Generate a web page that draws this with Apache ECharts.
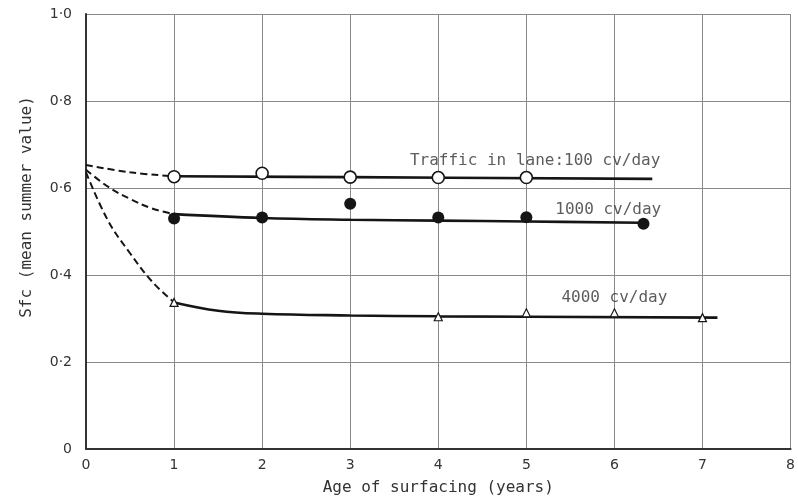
<!DOCTYPE html>
<html><head><meta charset="utf-8">
<script src="https://cdn.jsdelivr.net/npm/echarts@6/dist/echarts.min.js"></script>
<style>html,body{margin:0;padding:0;background:#fff}#c{width:798px;height:501px}</style>
</head><body><div id="c"></div>
<script>
var xTicks = ['0','1','2','3','4','5','6','7','8'];
var yTicks = {0:'0',0.2:'0·2',0.4:'0·4',0.6:'0·6',0.8:'0·8',1:'1·0'};

var lane100Dashed = [[0,0.653],[0.5,0.636],[1,0.627]];
var lane100Line = [[1,0.627],[3,0.625],[6.43,0.621]];
var lane100Points = [[1,0.626],[2,0.634],[3,0.625],[4,0.624],[5,0.624]];

var lane1000Dashed = [[0,0.642],[0.25,0.603],[0.5,0.575],[0.75,0.553],[1,0.540]];
var lane1000Line = [[1,0.540],[2,0.531],[3,0.527],[4,0.525],[5,0.523],[6.3,0.520]];
var lane1000Points = [[1,0.530],[2,0.532],[3,0.564],[4,0.532],[5,0.533],[6.33,0.518]];

var lane4000Dashed = [[0,0.636],[0.25,0.525],[0.5,0.450],[0.75,0.385],[1,0.337]];
var lane4000Line = [[1,0.337],[1.5,0.318],[2,0.311],[3,0.307],[4,0.305],[7.17,0.302]];
var lane4000Points = [[1,0.337],[4,0.304],[5,0.313],[6,0.313],[7,0.302]];

var labels = ['Traffic in lane:100 cv/day','1000 cv/day','4000 cv/day'];
var labelAnchors = [[5.1,0.662],[5.93,0.549],[6.0,0.348]];

var ink = '#151515';
var txt = '#333333';
var font = 'DejaVu Sans';
var mono = 'DejaVu Sans Mono';

function lineS(d, dashed, w){
  return {type:'line', data:d, smooth:0.4, showSymbol:false, symbol:'none', z:3,
    lineStyle:{color:ink, width:w, type: dashed ? [7,4] : 'solid'}, silent:true};
}
function labelS(i){
  return {type:'scatter', data:[labelAnchors[i]], symbolSize:0, silent:true, z:6,
    label:{show:true, formatter:labels[i], color:txt, fontSize:16, fontFamily:mono, position:'inside'}};
}
var chart = echarts.init(document.getElementById('c'));
chart.setOption({
  backgroundColor:'#fff',
  animation:false,
  grid:{left:86, right:7, top:14, bottom:49},
  xAxis:{type:'value', min:0, max:8, interval:1,
    name:'Age of surfacing (years)', nameLocation:'middle', nameGap:31,
    nameTextStyle:{color:txt, fontSize:16, fontFamily:mono},
    axisLine:{lineStyle:{color:'#333', width:2}},
    axisTick:{show:false},
    axisLabel:{color:txt, fontSize:14, fontFamily:font, margin:9,
      formatter:function(v){return xTicks[Math.round(v)];}},
    splitLine:{show:true, lineStyle:{color:'#8a8a8a', width:1}}
  },
  yAxis:{type:'value', min:0, max:1, interval:0.2,
    axisLine:{show:true, lineStyle:{color:'#333', width:2}},
    axisTick:{show:false},
    axisLabel:{color:txt, fontSize:14, fontFamily:font, margin:14,
      formatter:function(v){return yTicks[Math.round(v*10)/10];}},
    splitLine:{show:true, lineStyle:{color:'#8a8a8a', width:1}}
  },
  graphic:[
    {type:'text', x:27, y:207, rotation:Math.PI/2,
      style:{text:'Sfc (mean summer value)', fill:txt, fontSize:16, fontFamily:mono,
        textAlign:'center', textVerticalAlign:'middle', align:'center', verticalAlign:'middle'}}
  ],
  series:[
    lineS(lane100Dashed, true, 2),
    lineS(lane100Line, false, 2.6),
    {type:'scatter', data:lane100Points, symbol:'circle', symbolSize:12, z:5,
      itemStyle:{color:'#fff', borderColor:ink, borderWidth:1.6, opacity:1}},
    lineS(lane1000Dashed, true, 2),
    lineS(lane1000Line, false, 2.6),
    {type:'scatter', data:lane1000Points, symbol:'circle', symbolSize:12, z:5,
      itemStyle:{color:ink, opacity:1}},
    lineS(lane4000Dashed, true, 2),
    lineS(lane4000Line, false, 2.6),
    {type:'scatter', data:lane4000Points, symbol:'triangle', symbolSize:8, z:5,
      itemStyle:{color:'#fff', borderColor:ink, borderWidth:1.2, opacity:1}},
    labelS(0), labelS(1), labelS(2)
  ]
});
</script></body></html>
